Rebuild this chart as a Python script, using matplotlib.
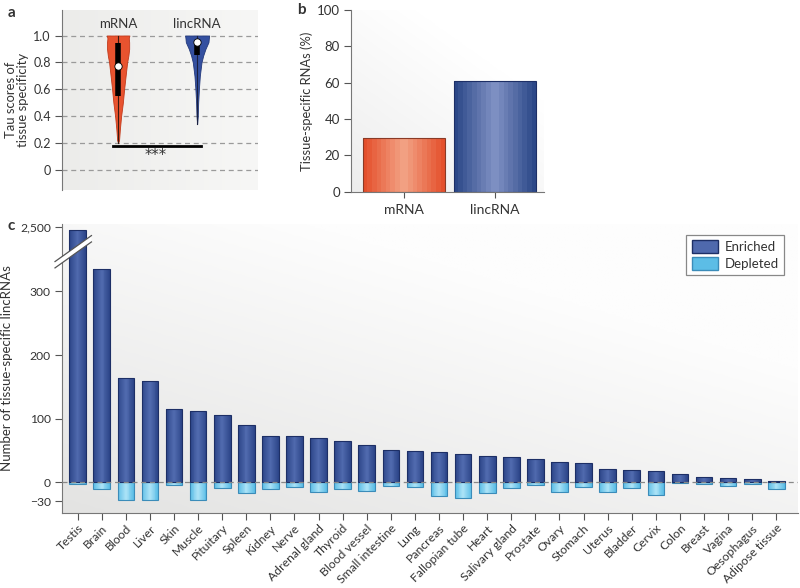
import numpy as np
import matplotlib
matplotlib.use("Agg")
import matplotlib.pyplot as plt
from matplotlib.colors import to_rgb, LinearSegmentedColormap
from matplotlib.patches import Patch, Polygon

plt.rcParams["font.family"] = ["Lato", "DejaVu Sans"]
plt.rcParams["text.color"] = "#333333"
plt.rcParams["axes.labelcolor"] = "#333333"
plt.rcParams["xtick.color"] = "#555555"
plt.rcParams["ytick.color"] = "#555555"
plt.rcParams["xtick.labelcolor"] = "#333333"
plt.rcParams["ytick.labelcolor"] = "#333333"

# PANEL A - violin outline (tau level, half width)
violin_groups = ["mRNA", "lincRNA"]
mrna_tau = [0.20, 0.22, 0.30, 0.40, 0.50, 0.60, 0.70, 0.80, 0.85, 0.90, 0.95, 0.98, 1.00]
mrna_half = [0.0, 0.012, 0.022, 0.038, 0.060, 0.076, 0.095, 0.114, 0.130, 0.140, 0.140, 0.135, 0.143]
linc_tau = [0.34, 0.40, 0.50, 0.60, 0.70, 0.80, 0.85, 0.90, 0.95, 0.98, 1.00]
linc_half = [0.0, 0.008, 0.013, 0.022, 0.034, 0.055, 0.076, 0.105, 0.143, 0.148, 0.152]
box_low = [0.553, 0.856]
box_high = [0.943, 0.930]
medians = [0.774, 0.955]
whisk_low = [0.20, 0.34]
whisk_high = [1.00, 1.00]
sig_y = 0.174

# PANEL B
b_groups = ["mRNA", "lincRNA"]
b_values = [29.5, 61]

# PANEL C
tissues = ["Testis", "Brain", "Blood", "Liver", "Skin", "Muscle", "Pituitary", "Spleen",
           "Kidney", "Nerve", "Adrenal gland", "Thyroid", "Blood vessel", "Small intestine",
           "Lung", "Pancreas", "Fallopian tube", "Heart", "Salivary gland", "Prostate",
           "Ovary", "Stomach", "Uterus", "Bladder", "Cervix", "Colon", "Breast", "Vagina",
           "Oesophagus", "Adipose tissue"]
enriched = [2495, 336, 164, 159, 115, 112, 105, 90, 73, 72, 69, 65, 58, 51,
            49, 48, 44, 42, 39, 36, 32, 30, 21.5, 18.5, 17, 13, 7.5, 7, 5, 2]
depleted = [-3, -10, -27.5, -27.5, -5, -27.5, -9, -17, -11, -8, -16, -10, -14, -6,
            -8, -22, -25, -17, -8.5, -5, -15, -7, -15, -9.5, -20.5, -1, -3.5, -5.5, -3, -10]

ORANGE_EDGE, ORANGE_MID = "#e4502c", "#f2a082"
BLUE_EDGE, BLUE_MID = "#2c4888", "#7d8fc2"
ENR_EDGE, ENR_MID, ENR_LINE = "#2d4689", "#4f69ad", "#1d2f66"
DEP_EDGE, DEP_MID, DEP_LINE = "#5cbde6", "#a8e1f6", "#3b8cb9"


def grad_bars(ax, x, heights, width, c_edge, c_mid, line, bottom=0, n=9, z=2):
    c0 = np.array(to_rgb(c_edge))
    c1 = np.array(to_rgb(c_mid))
    for k in range(n):
        t = k / (n - 1)
        ax.bar(x, heights, width * (1 - 0.9 * t), bottom=bottom, color=c0 + (c1 - c0) * t,
               linewidth=0, zorder=z + k * 0.01)
    ax.bar(x, heights, width, bottom=bottom, fill=False, edgecolor=line, linewidth=0.8,
           zorder=z + 0.5)


def background(ax, c_dark, c_light, direction="diag"):
    xx, yy = np.meshgrid(np.linspace(0, 1, 200), np.linspace(0, 1, 200))
    if direction == "diag":
        g = np.clip((xx * 0.6 + yy * 0.8), 0, 1)
    else:
        g = xx
    cmap = LinearSegmentedColormap.from_list("bg", [c_dark, c_light])
    ax.imshow(g, extent=[0, 1, 0, 1], transform=ax.transAxes, origin="lower",
              cmap=cmap, aspect="auto", zorder=0, interpolation="bilinear")


fig = plt.figure(figsize=(8, 5.88), dpi=100)

# ---------------- PANEL A ----------------
ax_a = fig.add_axes([0.0775, 0.677, 0.245, 0.306])
background(ax_a, "#ececea", "#f7f7f6", direction="x")
ax_a.set_xlim(-0.71, 1.77)
ax_a.set_ylim(-0.15, 1.19)
for yv in np.arange(0, 1.01, 0.2):
    ax_a.axhline(yv, color="#9a9a9a", linestyle=(0, (4, 3)), linewidth=0.9, zorder=1)

violin_sets = [(mrna_tau, mrna_half, "#e8532f", "#c23a1c"), (linc_tau, linc_half, "#3450a0", "#23397a")]
for i, (tau, half, col, edge) in enumerate(violin_sets):
    tau = np.array(tau)
    half = np.array(half)
    ax_a.fill_betweenx(tau, i - half, i + half, color=col, edgecolor=edge, linewidth=0.6, zorder=2)
    ax_a.plot([i, i], [whisk_low[i], whisk_high[i]], color="#3a1a10" if i == 0 else "#1a2040",
              linewidth=0.8, zorder=3)
    ax_a.plot([i, i], [box_low[i], box_high[i]], color="black", linewidth=4, solid_capstyle="butt", zorder=4)
    ax_a.scatter([i], [medians[i]], s=28, color="white", edgecolor="black", linewidth=0.6, zorder=5)
    ax_a.text(i, 1.04, violin_groups[i], ha="center", va="bottom", fontsize=9.5)

ax_a.plot([-0.06, 1.05], [sig_y, sig_y], color="black", linewidth=2, zorder=4)
ax_a.text(0.48, sig_y - 0.015, "***", ha="center", va="top", fontsize=10.5, family="DejaVu Sans")
ax_a.set_yticks(np.arange(0, 1.01, 0.2))
ax_a.set_yticklabels(["0", "0.2", "0.4", "0.6", "0.8", "1.0"], fontsize=9)
ax_a.set_xticks([])
for s in ["top", "right", "bottom"]:
    ax_a.spines[s].set_visible(False)
ax_a.spines["left"].set_color("#777777")
ax_a.tick_params(axis="y", length=5, width=0.8, pad=3)
ax_a.set_ylabel("Tau scores of\ntissue specificity", fontsize=9.4, labelpad=3, linespacing=1.0)
fig.text(0.01, 0.99, "a", fontsize=11, fontweight="bold", va="top")

# ---------------- PANEL B ----------------
ax_b = fig.add_axes([0.439, 0.674, 0.241, 0.309])
background(ax_b, "#ededed", "#ffffff", direction="diag")
ax_b.set_xlim(-0.58, 1.54)
ax_b.set_ylim(0, 100)
xb = np.arange(len(b_groups))
grad_bars(ax_b, [xb[0]], [b_values[0]], 0.91, ORANGE_EDGE, ORANGE_MID, "#8a3a26")
grad_bars(ax_b, [xb[1]], [b_values[1]], 0.91, BLUE_EDGE, BLUE_MID, "#1d2f66")
ax_b.set_xticks(xb)
ax_b.set_xticklabels(b_groups, fontsize=10)
ax_b.set_yticks(np.arange(0, 101, 20))
ax_b.tick_params(axis="y", length=5, width=0.8, labelsize=9.5, pad=3)
ax_b.tick_params(axis="x", length=4, width=0.8, pad=5)
for s in ["top", "right"]:
    ax_b.spines[s].set_visible(False)
ax_b.spines["left"].set_color("#777777")
ax_b.spines["bottom"].set_color("#777777")
ax_b.set_ylabel("Tissue-specific RNAs (%)", fontsize=9.3, labelpad=3)
fig.text(0.371, 0.995, "b", fontsize=11, fontweight="bold", va="top")

# ---------------- PANEL C ----------------
ax_c = fig.add_axes([0.0775, 0.128, 0.92, 0.491])
background(ax_c, "#e3e3e2", "#fdfdfd", direction="diag")

BREAK_LO, BREAK_HI = 350, 2448


def fwd(v):
    v = np.asarray(v, dtype=float)
    return np.where(v <= BREAK_LO, v, np.where(v >= BREAK_HI, v - (BREAK_HI - BREAK_LO), BREAK_LO))


def inv(u):
    u = np.asarray(u, dtype=float)
    return np.where(u <= BREAK_LO, u, u + (BREAK_HI - BREAK_LO))


ax_c.set_yscale("function", functions=(fwd, inv))
ax_c.set_xlim(-0.65, 29.9)
ax_c.set_ylim(-48, 2504)
xc = np.arange(len(tissues))
grad_bars(ax_c, xc, depleted, 0.69, DEP_EDGE, DEP_MID, DEP_LINE, z=2)
grad_bars(ax_c, xc, enriched, 0.69, ENR_EDGE, ENR_MID, ENR_LINE, z=3)
ax_c.axhline(0, color="#888888", linestyle=(0, (4, 3)), linewidth=0.9, zorder=5)

ax_c.set_yticks([-30, 0, 100, 200, 300, 2500])
ax_c.set_yticklabels(["\u221230", "0", "100", "200", "300", "2,500"], fontsize=8.7)
ax_c.yaxis.set_minor_locator(matplotlib.ticker.NullLocator())
ax_c.set_xticks(xc)
ax_c.set_xticklabels(tissues, rotation=45, ha="right", rotation_mode="anchor", fontsize=8.8)
ax_c.tick_params(axis="y", length=5, width=0.8, pad=3)
ax_c.tick_params(axis="x", length=5, width=0.8, pad=2)
for s in ["top", "right"]:
    ax_c.spines[s].set_visible(False)
ax_c.spines["left"].set_color("#777777")
ax_c.spines["bottom"].set_color("#777777")
ax_c.set_ylabel("Number of tissue-specific lincRNAs", fontsize=9.5, labelpad=5)

# axis break marks
x0, x1 = -0.0095, 0.04
y0, y1 = 0.848, 0.938
gap = 0.022
brk = Polygon([(x0, y0), (x1, y1), (x1, y1 + gap), (x0, y0 + gap)], closed=True,
              transform=ax_c.transAxes, facecolor="white", edgecolor="none", clip_on=False, zorder=10)
ax_c.add_patch(brk)
for off in (0, gap):
    ax_c.plot([x0, x1], [y0 + off, y1 + off], transform=ax_c.transAxes, color="#555555",
              linewidth=0.9, clip_on=False, zorder=11)

leg_handles = [Patch(facecolor=ENR_MID, edgecolor=ENR_LINE, label="Enriched"),
               Patch(facecolor=DEP_EDGE, edgecolor=DEP_LINE, label="Depleted")]
leg = ax_c.legend(handles=leg_handles, loc="upper right", bbox_to_anchor=(0.99, 0.985),
                  fontsize=9.5, frameon=True, fancybox=False, framealpha=1,
                  edgecolor="#888888", handlelength=2.0, handleheight=1.1, borderpad=0.4,
                  labelspacing=0.3, handletextpad=0.5)
leg.get_frame().set_linewidth(0.9)
fig.text(0.009, 0.616, "c", fontsize=11, fontweight="bold", va="center")

fig.savefig("out.png", dpi=100)
